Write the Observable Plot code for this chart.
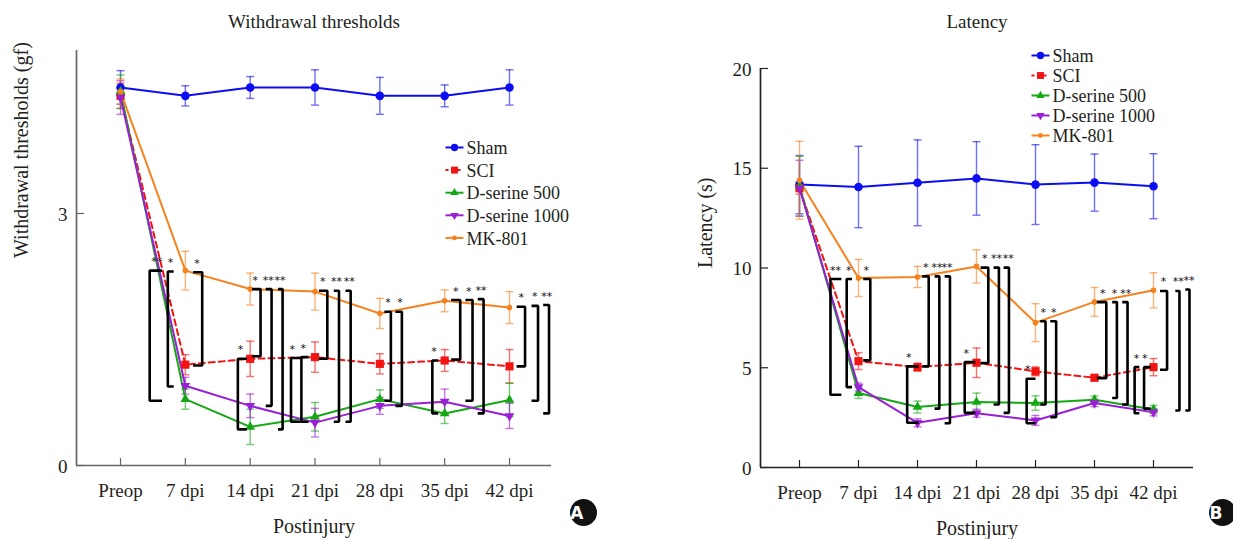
<!DOCTYPE html>
<html><head><meta charset="utf-8">
<script src="https://cdn.jsdelivr.net/npm/d3@7"></script>
<script src="https://cdn.jsdelivr.net/npm/@observablehq/plot@0.6"></script>
<style>
body{margin:0;background:#fff;}
#wrap{position:relative;width:1233px;height:539px;display:flex;overflow:hidden;}
#wrap svg{overflow:visible;font-family:'Liberation Serif','Times New Roman',serif;}
</style></head><body><div id="wrap"></div>
<script>
// ---------- shared categories ----------
const tLabels = ["Preop", "7 dpi", "14 dpi", "21 dpi", "28 dpi", "35 dpi", "42 dpi"];
const groups = ["Sham", "SCI", "D-serine 500", "D-serine 1000", "MK-801"];
const groupColors = ["#0d0df2", "#f21313", "#14a814", "#9a1fd6", "#f5821f"];
const groupSymbols = ["circle", "square", "triangle", "triangle", "circle"];
const groupRotate = [0, 0, 0, 180, 0];
const groupR = [4.3, 4.6, 3.6, 3.6, 2.8];

// ---------- A: withdrawal thresholds (gf) ----------
const wtSham = [4.50, 4.40, 4.50, 4.50, 4.40, 4.40, 4.50];
const wtShamSE = [0.20, 0.12, 0.13, 0.21, 0.22, 0.13, 0.21];
const wtSCI = [4.40, 1.20, 1.27, 1.29, 1.21, 1.25, 1.18];
const wtSCISE = [0.15, 0.12, 0.21, 0.18, 0.12, 0.13, 0.20];
const wtD500 = [4.45, 0.79, 0.46, 0.58, 0.79, 0.62, 0.78];
const wtD500SE = [0.20, 0.12, 0.21, 0.17, 0.11, 0.12, 0.20];
const wtD1000 = [4.38, 0.95, 0.71, 0.51, 0.71, 0.76, 0.59];
const wtD1000SE = [0.20, 0.10, 0.14, 0.17, 0.10, 0.15, 0.15];
const wtMK = [4.45, 2.32, 2.10, 2.07, 1.81, 1.96, 1.88];
const wtMKSE = [0.15, 0.23, 0.19, 0.22, 0.18, 0.13, 0.19];
const wtTicks = [0, 3];

// significance brackets, panel A
const wtBrT     = [1, 1, 1, 2, 2, 2, 2, 3, 3, 3, 3, 3, 4, 4, 5, 5, 5, 5, 6, 6, 6];
const wtBrSide  = [-0.55, -0.27, 0.26, -0.19, 0.16, 0.33, 0.50, -0.37, -0.21, 0.19, 0.37, 0.55, 0.17, 0.34, -0.19, 0.24, 0.43, 0.60, 0.24, 0.44, 0.61];
const wtBrArm   = [-0.36, -0.18, 0.12, -0.05, 0.03, 0.24, 0.43, -0.22, -0.10, 0.06, 0.29, 0.47, 0.07, 0.24, -0.10, 0.10, 0.32, 0.51, 0.11, 0.34, 0.52];
const wtBrTop   = [2.32, 2.31, 2.30, 1.27, 2.10, 2.10, 2.10, 1.28, 1.29, 2.08, 2.08, 2.08, 1.83, 1.83, 1.25, 1.97, 1.97, 1.98, 1.89, 1.90, 1.91];
const wtBrBot   = [0.77, 0.94, 1.19, 0.43, 1.30, 0.71, 0.43, 0.52, 0.52, 1.27, 0.52, 0.52, 0.77, 0.71, 0.62, 1.26, 0.77, 0.62, 1.18, 0.77, 0.62];
const wtBrStars = ["**", "*", "*", "*", "*", "**", "**", "*", "*", "*", "**", "**", "*", "*", "*", "*", "*", "**", "*", "*", "**"];
const wtBrStarX = [-0.44, -0.23, 0.18, -0.15, 0.08, 0.28, 0.46, -0.35, -0.18, 0.12, 0.33, 0.53, 0.125, 0.31, -0.165, 0.17, 0.37, 0.56, 0.18, 0.39, 0.575];

// ---------- B: latency (s) ----------
const latSham = [14.18, 14.06, 14.27, 14.49, 14.18, 14.28, 14.10];
const latShamSE = [1.46, 2.04, 2.15, 1.84, 2.00, 1.43, 1.63];
const latSCI = [14.00, 5.33, 5.03, 5.25, 4.82, 4.50, 5.03];
const latSCISE = [0.30, 0.42, 0.20, 0.74, 0.22, 0.15, 0.43];
const latD500 = [14.10, 3.73, 3.03, 3.28, 3.23, 3.40, 2.91];
const latD500SE = [1.50, 0.27, 0.30, 0.45, 0.36, 0.18, 0.20];
const latD1000 = [14.00, 4.03, 2.24, 2.72, 2.36, 3.23, 2.77];
const latD1000SE = [1.40, 0.20, 0.20, 0.20, 0.25, 0.18, 0.18];
const latMK = [14.40, 9.50, 9.55, 10.08, 7.26, 8.30, 8.88];
const latMKSE = [1.95, 0.93, 0.53, 0.83, 0.95, 0.72, 0.88];
const latTicks = [0, 5, 10, 15, 20];

// significance brackets, panel B
const latBrT     = [1, 1, 1, 2, 2, 2, 2, 3, 3, 3, 3, 4, 4, 4, 5, 5, 5, 6, 6, 6, 6, 6];
const latBrSide  = [-0.475, -0.20, 0.20, -0.175, 0.19, 0.37, 0.55, -0.20, 0.20, 0.38, 0.55, -0.15, 0.17, 0.35, 0.20, 0.38, 0.56, -0.32, -0.16, 0.23, 0.44, 0.61];
const latBrArm   = [-0.29, -0.11, 0.08, 0.02, 0.08, 0.29, 0.46, -0.02, 0.07, 0.29, 0.46, 0.0, 0.08, 0.25, 0.04, 0.30, 0.47, -0.24, -0.05, 0.11, 0.37, 0.54];
const latBrTop   = [9.45, 9.45, 9.45, 5.07, 9.58, 9.58, 9.58, 5.28, 10.02, 10.02, 10.02, 4.45, 7.33, 7.33, 8.29, 8.29, 8.29, 5.03, 5.03, 8.85, 8.85, 8.92];
const latBrBot   = [3.65, 4.03, 5.37, 2.24, 5.07, 2.95, 2.22, 2.74, 5.23, 3.16, 2.74, 2.22, 3.16, 2.52, 4.48, 3.48, 3.16, 2.72, 2.95, 4.90, 2.86, 2.86];
const latBrStars = ["**", "*", "*", "*", "*", "**", "**", "*", "*", "**", "**", "*", "*", "*", "*", "*", "**", "*", "*", "*", "**", "**"];
const latBrStarX = [-0.39, -0.165, 0.13, -0.15, 0.14, 0.33, 0.50, -0.175, 0.14, 0.34, 0.54, -0.13, 0.13, 0.31, 0.14, 0.34, 0.53, -0.29, -0.15, 0.17, 0.42, 0.60];

const FONT = "'Liberation Serif', 'Times New Roman', serif";
const INK = "#231f20";

function panel(o) {
  const W = o.width, H = o.height, ml = o.ml, mr = o.mr, mt = o.mt, mb = o.mb;
  const xd = o.xDomain, yd = o.yDomain;
  const ppu = (W - ml - mr) / (xd[1] - xd[0]);
  const ppy = (H - mt - mb) / (yd[1] - yd[0]);
  const px2x = px => xd[0] + (px - ml) / ppu;
  const px2y = py => yd[0] + (H - mb - py) / ppy;
  const cap = 4 / ppu;
  const marks = [];
  const T = {fontFamily: FONT, fill: INK, lineAnchor: "middle"};

  // axes
  marks.push(Plot.ruleY([yd[0]], {x1: xd[0], x2: xd[1], stroke: o.axisColor, strokeWidth: 1.7}));
  marks.push(Plot.ruleX([xd[0]], {y1: yd[0], y2: yd[1], stroke: o.axisColor, strokeWidth: 1.7}));
  marks.push(Plot.ruleX(tLabels.map((_, i) => i), {x: d => d, y1: yd[0], y2: yd[0] + 7 / ppy, stroke: o.axisColor, strokeWidth: 1.2}));
  marks.push(Plot.ruleY(o.yTicks, {y: d => d, x1: xd[0], x2: xd[0] + 8 / ppu, stroke: o.axisColor, strokeWidth: 1.2}));
  marks.push(Plot.text(tLabels, {x: (d, i) => i, y: () => yd[0], text: d => d, dy: 25, fontSize: 19, ...T}));
  marks.push(Plot.text(o.yTicks, {x: () => xd[0], y: d => d, text: d => String(d), dx: -9, dy: 1, textAnchor: "end", fontSize: 19, ...T}));

  // error bars
  o.series.forEach((vals, gi) => {
    const errs = o.errors[gi];
    const rows = vals.map((v, t) => ({t, v, e: errs[t]}));
    const c = groupColors[gi];
    const st = {stroke: c, strokeOpacity: 0.6, strokeWidth: 1.4};
    marks.push(Plot.ruleX(rows, {x: "t", y1: d => d.v - d.e, y2: d => d.v + d.e, ...st}));
    marks.push(Plot.link(rows, {x1: d => d.t - cap, x2: d => d.t + cap, y1: d => d.v + d.e, y2: d => d.v + d.e, ...st}));
    marks.push(Plot.link(rows, {x1: d => d.t - cap, x2: d => d.t + cap, y1: d => d.v - d.e, y2: d => d.v - d.e, ...st}));
  });
  // lines + symbols
  o.series.forEach((vals, gi) => {
    const c = groupColors[gi];
    marks.push(Plot.line(vals, {x: (d, i) => i, y: d => d, stroke: c, strokeWidth: 2, strokeDasharray: gi === 1 ? "6,4" : null}));
  });
  o.series.forEach((vals, gi) => {
    const c = groupColors[gi];
    marks.push(Plot.dot(vals, {x: (d, i) => i, y: d => d, symbol: groupSymbols[gi], r: groupR[gi], fill: c, stroke: "none", rotate: groupRotate[gi]}));
  });

  // brackets
  const b = o.br;
  const pts = [];
  b.t.forEach((t, k) => {
    const xv = t + b.side[k], xa = t + b.arm[k];
    pts.push({id: k, x: xa, y: b.top[k]}, {id: k, x: xv, y: b.top[k]}, {id: k, x: xv, y: b.bot[k]}, {id: k, x: xa, y: b.bot[k]});
  });
  marks.push(Plot.line(pts, {x: "x", y: "y", z: "id", stroke: "#000", strokeWidth: 2.6, strokeLinejoin: "miter", strokeLinecap: "butt"}));
  marks.push(Plot.text(b.t.map((t, k) => ({x: t + b.starX[k], y: b.top[k], s: b.stars[k]})),
    {x: "x", y: "y", text: "s", dy: -9, fontSize: 11, fill: "#111", lineAnchor: "middle", fontFamily: "'DejaVu Sans', sans-serif", letterSpacing: "-1px"}));

  // legend
  const L = o.legend;
  groups.forEach((g, gi) => {
    const yy = px2y(L.y0 + gi * L.step);
    const c = groupColors[gi];
    marks.push(Plot.link([0], {x1: px2x(L.x0), x2: px2x(L.x0 + 18), y1: yy, y2: yy, stroke: c, strokeWidth: 2, strokeDasharray: gi === 1 ? "3,3" : null}));
    marks.push(Plot.dot([0], {x: px2x(L.x0 + 9), y: yy, symbol: groupSymbols[gi], r: groupR[gi] * 0.85, fill: c, rotate: groupRotate[gi]}));
    marks.push(Plot.text([g], {x: px2x(L.x0 + 21), y: yy, text: d => d, textAnchor: "start", fontSize: 18, dy: 1, ...T}));
  });

  // titles / labels
  marks.push(Plot.text([o.title], {frameAnchor: "top", dy: o.titleDy, text: d => d, fontSize: 19, ...T}));
  marks.push(Plot.text([o.yLabel], {frameAnchor: "left", dx: o.yLabelDx, text: d => d, rotate: -90, fontSize: 20, ...T}));
  marks.push(Plot.text(["Postinjury"], {frameAnchor: "bottom", dy: 61, text: d => d, fontSize: 20, ...T}));
  // badge
  marks.push(Plot.dot([0], {frameAnchor: "bottom-right", dx: o.badgeDx, dy: o.badgeDy, r: 13.5, fill: "#111", stroke: "none"}));
  marks.push(Plot.text([o.badge], {frameAnchor: "bottom-right", dx: o.badgeDx, dy: o.badgeDy + 1, text: d => d, fill: "#fff", fontSize: 17, fontWeight: "bold", fontFamily: "'DejaVu Sans', sans-serif", lineAnchor: "middle"}));

  return Plot.plot({
    width: W, height: H, marginLeft: ml, marginRight: mr, marginTop: mt, marginBottom: mb,
    x: {domain: xd, axis: null}, y: {domain: yd, axis: null},
    style: {fontFamily: FONT, background: "transparent", overflow: "visible"},
    marks
  });
}

const wrap = document.getElementById("wrap");
wrap.appendChild(panel({
  width: 616, height: 539, ml: 76, mr: 65, mt: 50, mb: 74,
  xDomain: [-0.679, 6.648], yDomain: [0, 4.94], axisColor: "#666",
  yTicks: wtTicks,
  series: [wtSham, wtSCI, wtD500, wtD1000, wtMK],
  errors: [wtShamSE, wtSCISE, wtD500SE, wtD1000SE, wtMKSE],
  br: {t: wtBrT, side: wtBrSide, arm: wtBrArm, top: wtBrTop, bot: wtBrBot, stars: wtBrStars, starX: wtBrStarX},
  legend: {x0: 445, y0: 147, step: 22.6},
  title: "Withdrawal thresholds", titleDy: -29,
  yLabel: "Withdrawal thresholds (gf)", yLabelDx: -55,
  badge: "A", badgeDx: 32, badgeDy: 47
}));
wrap.appendChild(panel({
  width: 617, height: 539, ml: 144, mr: 40, mt: 68, mb: 72,
  xDomain: [-0.661, 6.678], yDomain: [0, 20], axisColor: "#222",
  yTicks: latTicks,
  series: [latSham, latSCI, latD500, latD1000, latMK],
  errors: [latShamSE, latSCISE, latD500SE, latD1000SE, latMKSE],
  br: {t: latBrT, side: latBrSide, arm: latBrArm, top: latBrTop, bot: latBrBot, stars: latBrStars, starX: latBrStarX},
  legend: {x0: 415, y0: 55, step: 20},
  title: "Latency", titleDy: -47,
  yLabel: "Latency (s)", yLabelDx: -55,
  badge: "B", badgeDx: 29, badgeDy: 45
}));
</script></body></html>
